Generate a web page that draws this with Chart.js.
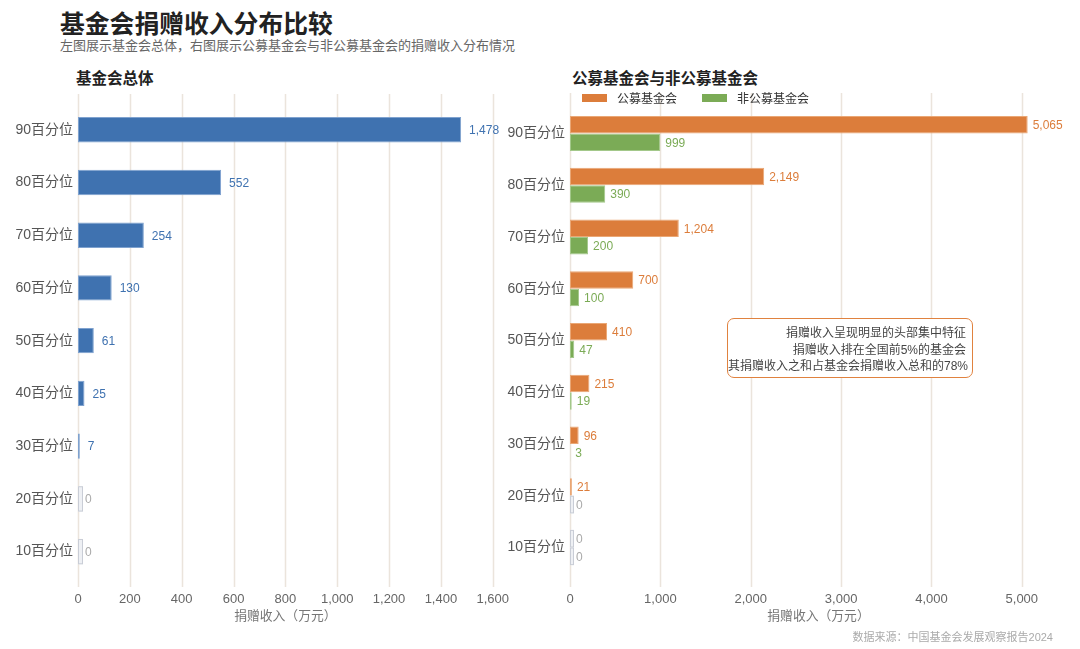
<!DOCTYPE html>
<html>
<head>
<meta charset="utf-8">
<script src="https://cdn.jsdelivr.net/npm/chart.js@4.4.1/dist/chart.umd.min.js"></script>
<style>
  html, body { margin: 0; padding: 0; background: #fff; }
  body { width: 1080px; height: 649px; position: relative; overflow: hidden;
         font-family: 'Liberation Sans', 'Noto Sans CJK SC', sans-serif; }
  .abs { position: absolute; white-space: nowrap; }
  #title { left: 60px; top: 4px; font-size: 24.8px; font-weight: bold; color: #222; }
  #subtitle { left: 60px; top: 35px; font-size: 13px; color: #666; }
  .panel-title { top: 66px; font-size: 15.5px; font-weight: bold; color: #222; }
  #leftTitle { left: 76px; }
  #rightTitle { left: 572px; }
  #legend { left: 582px; top: 89px; font-size: 12px; color: #333; display: flex; }
  .leg-item { display: flex; align-items: center; margin-right: 25px; }
  .leg-box { width: 25px; height: 8px; margin-right: 10px; }
  #note { left: 727px; top: 318px; width: 238px; height: 52px; border: 1.5px solid #e0823f;
          border-radius: 7px; background: #fff; font-size: 12px; color: #444;
          text-align: right; padding: 6px 6px 0 0; line-height: 16.5px; }
  #source { right: 27px; top: 628px; font-size: 11px; color: #aaa; }
  canvas { position: absolute; }
</style>
</head>
<body>
<div id="title" class="abs">基金会捐赠收入分布比较</div>
<div id="subtitle" class="abs">左图展示基金会总体，右图展示公募基金会与非公募基金会的捐赠收入分布情况</div>
<div id="leftTitle" class="abs panel-title">基金会总体</div>
<div id="rightTitle" class="abs panel-title">公募基金会与非公募基金会</div>
<canvas id="leftChart" width="523" height="540" style="left:0;top:90px"></canvas>
<canvas id="rightChart" width="580" height="540" style="left:500px;top:90px"></canvas>
<div id="legend" class="abs"></div>
<div id="note" class="abs">捐赠收入呈现明显的头部集中特征<br>捐赠收入排在全国前5%的基金会<br>其捐赠收入之和占基金会捐赠收入总和的78%</div>
<div id="source" class="abs">数据来源：中国基金会发展观察报告2024</div>

<script>
// data
var categories = ['90百分位', '80百分位', '70百分位', '60百分位', '50百分位', '40百分位', '30百分位', '20百分位', '10百分位'];
var overallValues = [1478, 552, 254, 130, 61, 25, 7, 0, 0];
var publicValues = [5065, 2149, 1204, 700, 410, 215, 96, 21, 0];
var nonPublicValues = [999, 390, 200, 100, 47, 19, 3, 0, 0];
var leftTicks = [0, 200, 400, 600, 800, 1000, 1200, 1400, 1600];
var rightTicks = [0, 1000, 2000, 3000, 4000, 5000];

var FONT = "'Liberation Sans', 'Noto Sans CJK SC', sans-serif";
var BLUE = '#3f72b0', ORANGE = '#dc7d3b', GREEN = '#7bab56';

function fmt(v) { return Number(v).toLocaleString('en-US'); }

// gridlines that run a little past the plot area, like the original
var extGrid = {
    id: 'extGrid',
    beforeDatasetsDraw: function (chart, args, opts) {
        var ctx = chart.ctx, xs = chart.scales.x;
        ctx.save();
        ctx.strokeStyle = '#ebe4dc';
        ctx.lineWidth = 1.5;
        opts.ticks.forEach(function (v) {
            var px = Math.round(xs.getPixelForValue(v)) + 0.5;
            ctx.beginPath();
            ctx.moveTo(px, opts.top);
            ctx.lineTo(px, opts.bottom);
            ctx.stroke();
        });
        ctx.restore();
    }
};

// zero bars as small grey boxes + value labels
var barLabels = {
    id: 'barLabels',
    afterDatasetsDraw: function (chart, args, opts) {
        var ctx = chart.ctx;
        ctx.save();
        chart.data.datasets.forEach(function (ds, di) {
            var meta = chart.getDatasetMeta(di);
            meta.data.forEach(function (el, i) {
                var v = ds.data[i];
                var h = el.height;
                var x = el.x;
                if (v === 0) {
                    ctx.fillStyle = '#eef0f4';
                    ctx.strokeStyle = '#c9cdd6';
                    ctx.lineWidth = 1;
                    ctx.fillRect(el.base, el.y - h / 2, opts.zeroWidth, h);
                    ctx.strokeRect(el.base + 0.5, el.y - h / 2 + 0.5, opts.zeroWidth - 1, h - 1);
                    x = el.base + opts.zeroWidth;
                }
                ctx.font = (v === 0 ? '400 ' : '500 ') + '12px ' + FONT;
                ctx.fillStyle = v === 0 ? '#aaaaaa' : ds.labelColor;
                ctx.textAlign = 'left';
                ctx.textBaseline = 'middle';
                ctx.fillText(fmt(v), x + (v === 0 ? 2 : opts.gap), el.y + 1);
            });
        });
        ctx.restore();
    }
};

function baseOptions(max, tickList, yWidth, xHeight, xPad, pad, grid, label) {
    return {
        indexAxis: 'y',
        responsive: false,
        animation: false,
        layout: { padding: pad },
        plugins: {
            legend: { display: false },
            tooltip: { enabled: false },
            extGrid: grid,
            barLabels: label
        },
        scales: {
            y: {
                grid: { display: false, drawTicks: false },
                border: { display: false },
                ticks: { color: '#555', font: { family: FONT, size: 14 }, padding: 5 },
                afterFit: function (s) { s.width = yWidth; }
            },
            x: {
                min: 0, max: max,
                grid: { display: false, drawTicks: false },
                border: { display: false },
                afterBuildTicks: function (s) {
                    s.ticks = tickList.map(function (v) { return { value: v }; });
                },
                ticks: {
                    color: '#666', font: { family: FONT, size: 13 }, padding: xPad,
                    callback: function (v) { return fmt(v); }
                },
                title: {
                    display: true, text: '捐赠收入（万元）', color: '#777',
                    font: { family: FONT, size: 12.8 }, padding: { top: 0, bottom: 5.5 }
                },
                afterFit: function (s) { s.height = xHeight; }
            }
        }
    };
}

function barStyle(color, border) {
    return {
        backgroundColor: color,
        borderColor: border,
        borderWidth: 1,
        borderSkipped: false
    };
}

new Chart(document.getElementById('leftChart'), {
    type: 'bar',
    data: {
        labels: categories,
        datasets: [Object.assign({
            label: '基金会总体',
            data: overallValues,
            labelColor: BLUE,
            categoryPercentage: 0.48,
            barPercentage: 1
        }, barStyle(BLUE, '#7fa2cf'))]
    },
    options: baseOptions(1600, leftTicks, 78, 52, 14,
        { top: 13, right: 0, left: 0, bottom: 0 },
        { ticks: leftTicks, top: 4, bottom: 497 },
        { gap: 8, zeroWidth: 5 }),
    plugins: [extGrid, barLabels]
});

var rightChart = new Chart(document.getElementById('rightChart'), {
    type: 'bar',
    data: {
        labels: categories,
        datasets: [
            Object.assign({
                label: '公募基金会',
                data: publicValues,
                labelColor: ORANGE,
                categoryPercentage: 0.68,
                barPercentage: 1
            }, barStyle(ORANGE, '#eaa775')),
            Object.assign({
                label: '非公募基金会',
                data: nonPublicValues,
                labelColor: GREEN,
                categoryPercentage: 0.68,
                barPercentage: 1
            }, barStyle(GREEN, '#a3c88a'))
        ]
    },
    options: baseOptions(5500, rightTicks, 70, 56.6, 18.6,
        { top: 17.6, right: 13, left: 0, bottom: 0 },
        { ticks: rightTicks, top: 3, bottom: 497 },
        { gap: 5, zeroWidth: 4 }),
    plugins: [extGrid, barLabels]
});

// legend built from the right chart's datasets
var legend = document.getElementById('legend');
rightChart.data.datasets.forEach(function (ds) {
    var item = document.createElement('div');
    item.className = 'leg-item';
    item.innerHTML = '<span class="leg-box" style="background:' + ds.backgroundColor + '"></span>' + ds.label;
    legend.appendChild(item);
});
</script>
</body>
</html>
